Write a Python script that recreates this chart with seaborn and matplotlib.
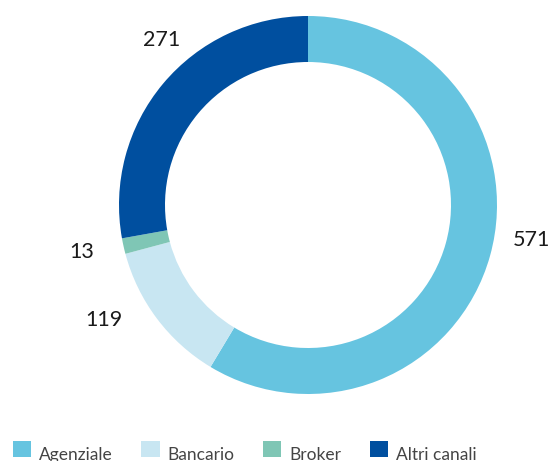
import matplotlib
matplotlib.use("Agg")
import matplotlib.pyplot as plt
from matplotlib.patches import Patch
from matplotlib.transforms import ScaledTranslation
import seaborn as sns

categories = ["Agenziale", "Bancario", "Broker", "Altri canali"]
values = [571, 119, 13, 271]
value_labels = ["571", "119", "13", "271"]
colors = ["#66c4e0", "#c8e6f2", "#7fc6b5", "#004f9f"]

sns.set_theme(style="white")
plt.rcParams["font.family"] = ["Lato", "DejaVu Sans"]

W, H = 549, 461
fig = plt.figure(figsize=(W / 100, H / 100), dpi=100)
ax = fig.add_axes([0, 0, 1, 1])

wedges, texts = ax.pie(
    values,
    labels=value_labels,
    colors=colors,
    startangle=90,
    counterclock=False,
    center=(308, H - 205),
    radius=189,
    labeldistance=1.2,
    wedgeprops=dict(width=46, linewidth=0),
    textprops=dict(fontsize=15.5, color="#1a1a1a"),
    frame=True,
)
ax.set_xlim(0, W)
ax.set_ylim(0, H)
ax.set_aspect("equal")
ax.axis("off")

# label placement nudges (pixel positions of label centres, y from top)
label_pos = [(531, 240), (104, 320), (82, 252), (162, 40)]
for t, (x, y) in zip(texts, label_pos):
    t.set_position((x, H - y))
    t.set_ha("center")
    t.set_va("center")

handles = [Patch(facecolor=c, edgecolor="none") for c in colors]
leg = fig.legend(handles, categories, loc="upper left", bbox_to_anchor=(13 / W, 1 - 441 / H),
                 ncol=4, frameon=False, fontsize=12.5, borderpad=0, borderaxespad=0,
                 handlelength=1.05, handleheight=1.05, handletextpad=0.45, columnspacing=1.65,
                 labelcolor="#444444")
for t in leg.get_texts():
    t.set_transform(t.get_transform() + ScaledTranslation(0, -5 / 100, fig.dpi_scale_trans))

fig.savefig("out.png", dpi=100)
